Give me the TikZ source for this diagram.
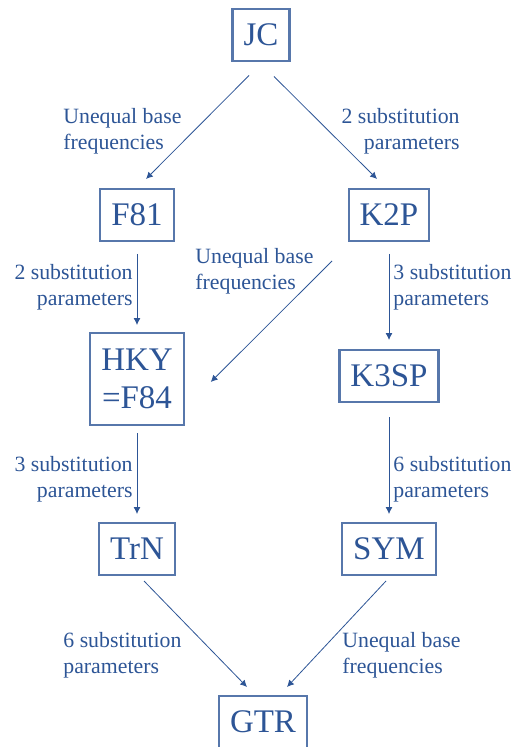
\documentclass[tikz,border=0pt]{standalone}
\usepackage{fontspec}
\setmainfont{Liberation Serif}
\newfontfamily\modelfont{Liberation Serif}
\usepackage{xcolor}
\definecolor{modelblue}{RGB}{45,85,150}
\usepackage{tikz}
\usetikzlibrary{arrows.meta,positioning}

\begin{document}
\begin{tikzpicture}[x=1pt,y=1pt]
  \tikzstyle{modelbox}=[rectangle,draw=modelblue!80,line width=1.1pt,outer sep=0pt,text=modelblue,minimum height=26pt,inner xsep=5.5pt,align=center,font=\modelfont\fontsize{16.5}{19}\selectfont]
  \tikzstyle{notelabel}=[inner sep=0pt,text=modelblue,font=\modelfont\fontsize{10.9}{13}\selectfont]
  \useasboundingbox (0,0) rectangle (258,-373.5);

  \node[modelbox] (jc) at (130.5,-17.5) {JC};
  \node[modelbox,below=64pt of jc,xshift=-62pt] (f81) {F81};
  \node[modelbox,below=64pt of jc,xshift=64pt] (k2p) {K2P};
  \node[modelbox,below=46pt of f81,minimum height=46pt] (hky) {HKY\\=F84};
  \node[modelbox,below=54.5pt of k2p] (k3sp) {K3SP};
  \node[modelbox,below=49pt of hky] (trn) {TrN};
  \node[modelbox,below=60.5pt of k3sp] (sym) {SYM};
  \node[modelbox,below=60.5pt of trn,xshift=63pt] (gtr) {GTR};

  \node[notelabel,anchor=west,align=left] (lbfreq) at (31.5,-65.75) {Unequal base\\frequencies};
  \node[notelabel,anchor=east,align=right] (lbtwo) at (230,-65.75) {2 substitution\\parameters};
  \node[notelabel,anchor=east,align=right] (lbtwoleft) at (66.5,-143.75) {2 substitution\\parameters};
  \node[notelabel,anchor=west,align=left] (lbfreqmid) at (97.5,-135.75) {Unequal base\\frequencies};
  \node[notelabel,anchor=west,align=left] (lbthree) at (196.5,-143.75) {3 substitution\\parameters};
  \node[notelabel,anchor=east,align=right] (lbthreeleft) at (66.5,-239.5) {3 substitution\\parameters};
  \node[notelabel,anchor=west,align=left] (lbsix) at (196.5,-239.5) {6 substitution\\parameters};
  \node[notelabel,anchor=west,align=left] (lbsixlow) at (31.5,-327.5) {6 substitution\\parameters};
  \node[notelabel,anchor=west,align=left] (lbfreqlow) at (171,-327.5) {Unequal base\\frequencies};

  \draw[modelblue,-{Latex[length=1.2mm,width=1.2mm]}] ([shift={(-6pt,-7.25pt)}]jc.south) -- ([shift={(4.5pt,5pt)}]f81.north);
  \draw[modelblue,-{Latex[length=1.2mm,width=1.2mm]}] ([shift={(6.5pt,-7.75pt)}]jc.south) -- ([shift={(-6pt,5pt)}]k2p.north);
  \draw[modelblue,-{Latex[length=1.2mm,width=1.2mm]},shorten <=6.5pt,shorten >=4pt] (f81.south) -- (hky.north);
  \draw[modelblue,-{Latex[length=1.2mm,width=1.2mm]}] ([shift={(-28.5pt,-10pt)}]k2p.south) -- ([shift={(13.5pt,-1.5pt)}]hky.east);
  \draw[modelblue,-{Latex[length=1.2mm,width=1.2mm]},shorten <=6.5pt,shorten >=5pt] (k2p.south) -- (k3sp.north);
  \draw[modelblue,-{Latex[length=1.2mm,width=1.2mm]},shorten <=4pt,shorten >=4.5pt] (hky.south) -- (trn.north);
  \draw[modelblue,-{Latex[length=1.2mm,width=1.2mm]},shorten <=7.5pt,shorten >=4.5pt] (k3sp.south) -- (sym.north);
  \draw[modelblue,-{Latex[length=1.2mm,width=1.2mm]}] ([shift={(3.5pt,-3pt)}]trn.south) -- ([shift={(-8pt,4.5pt)}]gtr.north);
  \draw[modelblue,-{Latex[length=1.2mm,width=1.2mm]}] ([shift={(-1.5pt,-3pt)}]sym.south) -- ([shift={(12pt,4.5pt)}]gtr.north);
\end{tikzpicture}
\end{document}
